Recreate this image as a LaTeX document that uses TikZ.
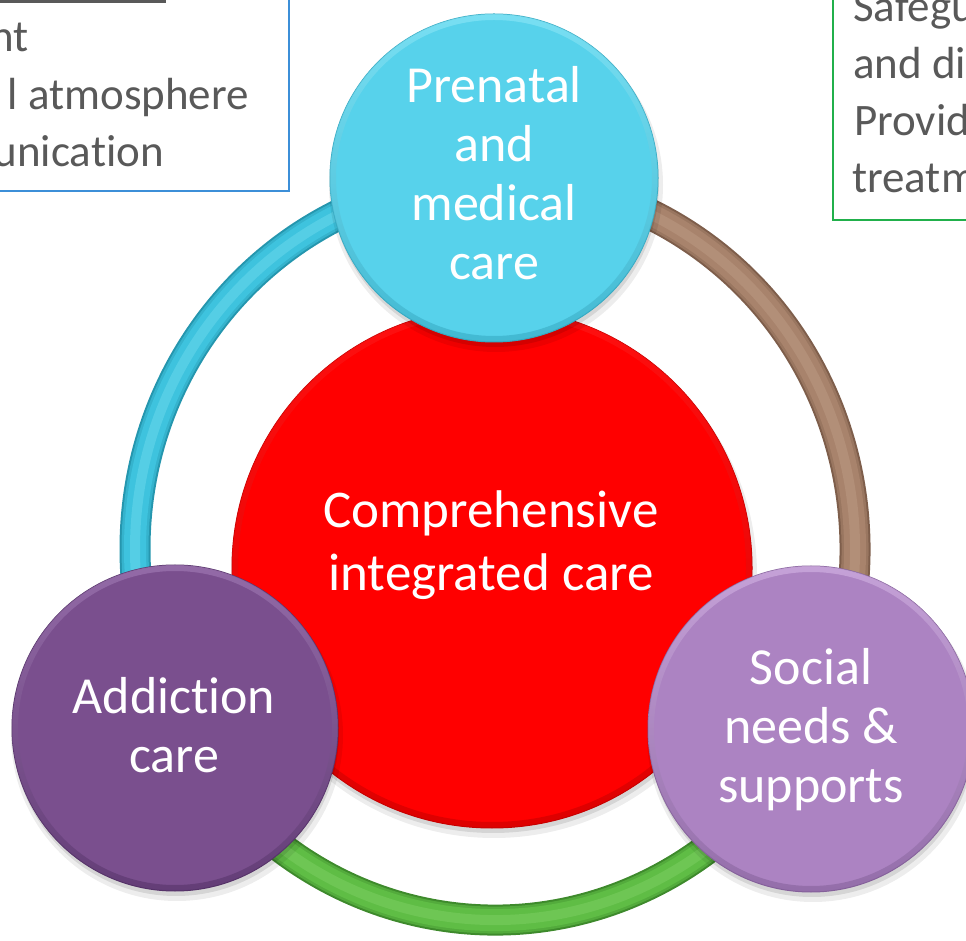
\documentclass[tikz,border=0pt]{standalone}
\usepackage{fontspec}
\setmainfont{Carlito}[Ligatures=NoCommon]
\usetikzlibrary{calc}

\definecolor{txtgray}{HTML}{595959}
\definecolor{boxblue}{HTML}{3C8FD8}
\definecolor{boxgreen}{HTML}{21B04B}
% ring tube colours: dark edge, base, light highlight
\definecolor{cyanD}{HTML}{2596AE}
\definecolor{cyanB}{HTML}{3EC3DE}
\definecolor{cyanL}{HTML}{7FE3F3}
\definecolor{brownD}{HTML}{7E5E4B}
\definecolor{brownB}{HTML}{A8836C}
\definecolor{brownL}{HTML}{C4A48F}
\definecolor{greenD}{HTML}{3E8A2C}
\definecolor{greenB}{HTML}{5FBD45}
\definecolor{greenL}{HTML}{8AD870}
% disc colours
\definecolor{topB}{HTML}{57D2EB}
\definecolor{topL}{HTML}{8FE8F8}
\definecolor{topD}{HTML}{35A9C2}
\definecolor{addB}{HTML}{7A4F8E}
\definecolor{addL}{HTML}{A47DB8}
\definecolor{addD}{HTML}{553268}
\definecolor{socB}{HTML}{AC83C2}
\definecolor{socL}{HTML}{D6B6E6}
\definecolor{socD}{HTML}{84609A}
\definecolor{redB}{HTML}{FF0000}
\definecolor{redL}{HTML}{FF1A1A}
\definecolor{redD}{HTML}{C80000}

% bevelled disc with a soft shadow: name, x, y, radius, colour stem
\newcommand\bevdisc[5]{%
  \fill[black, opacity=.07] (#2+2,#3-7) circle (#4+3);
  \fill[black, opacity=.10] (#2+1,#3-5) circle (#4);
  \node[disc, minimum size={2*#4pt}, fill=#5B, draw=#5D] (#1) at (#2,#3) {};
  \path[even odd rule, top color=#5L, bottom color=#5D, opacity=.6]
    (#1.center) circle (#4) (#1.center) circle (#4-6);
}

% one coloured section of the tube ring: colour stem, start angle, end angle
\newcommand\tubearc[3]{%
  \foreach \w/\c in {31/#1D, 27/#1D!35!#1B, 22/#1B, 10/#1B!65!#1L}
    \draw[line width=\w pt, \c]
      ([shift={(#2:360 and 371)}]rc) arc[start angle=#2, end angle=#3, x radius=360, y radius=371];
}

\begin{document}
\begin{tikzpicture}[x=1pt,y=1pt,
  disc/.style={circle, inner sep=0pt, line width=1pt},
  lbl/.style={text=white, align=center, inner sep=0pt,
              font=\fontsize{52}{59}\selectfont},
  boxtxt/.style={text=txtgray, inner sep=0pt,
              font=\fontsize{45}{57}\selectfont},
]
\useasboundingbox (0,0) rectangle (966,940);
\clip (0,0) rectangle (966,940);

% heading rule and the two text boxes
\fill[txtgray] (0,937.4) rectangle (166,941);
\draw[boxblue, line width=1.5pt] (-20,749) rectangle (289,960);
\draw[boxgreen, line width=1.5pt] (833,720) rectangle (1000,960);

% ring around the three discs (elliptical tube in three coloured arcs)
\coordinate (rc) at (495,391);
\tubearc{cyan}{90}{210}
\tubearc{brown}{-32}{90}
\tubearc{green}{205}{335}

% discs
\bevdisc{core}{492}{372}{260}{red}
\bevdisc{prenatal}{494}{762}{164}{top}
\bevdisc{addiction}{175}{212}{163}{add}
\bevdisc{social}{811}{211}{163}{soc}

% disc labels
\node[lbl] (tPre) at (494,767) {Prenatal\\and\\medical\\care};
\node[lbl, font=\fontsize{53}{63}\selectfont] (tCore) at (491,395) {Comprehensive\\integrated care};
\node[lbl] (tAdd) at (174,214.5) {Addiction\\care};
\node[lbl] (tSoc) at (811,210) {Social\\needs \&\\supports};

% box texts
\node[boxtxt, anchor=base east] (bl1) at (29,888) {nt};
\node[boxtxt, anchor=base east] (bl2) at (249,830) {l atmosphere};
\node[boxtxt, anchor=base east] (bl3) at (164,773) {unication};
\node[boxtxt, anchor=base west] (br1) at (853,918) {Safegu};
\node[boxtxt, anchor=base west] (br2) at (853,861) {and di};
\node[boxtxt, anchor=base west] (br3) at (854,804) {Provid};
\node[boxtxt, anchor=base west] (br4) at (852,747) {treatm};
\end{tikzpicture}
\end{document}
